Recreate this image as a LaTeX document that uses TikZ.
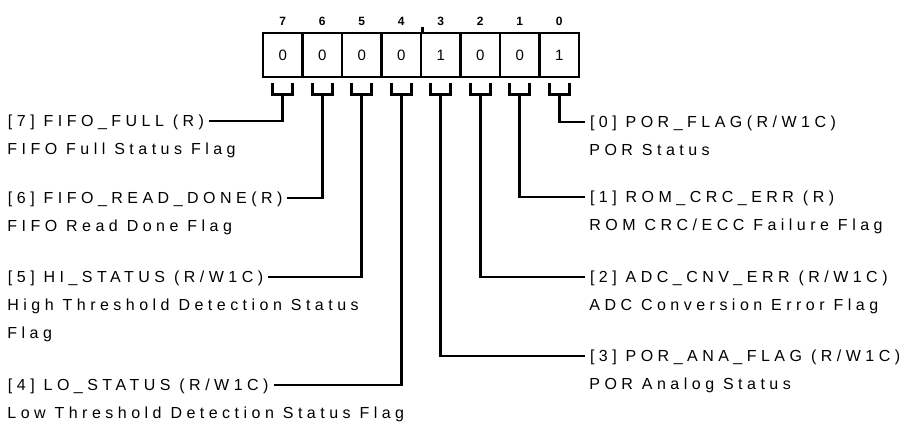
\documentclass[tikz,border=0pt]{standalone}
\usepackage{fontspec}
\setmainfont{Liberation Sans}
\newfontfamily\regfont[LetterSpace=28]{Liberation Sans}
\usetikzlibrary{positioning}

\begin{document}
\begin{tikzpicture}[
  x=1pt, y=-1pt,
  line width=2.8pt,
  line join=miter,
  cell/.style={
    draw,
    minimum width=39.5pt,
    minimum height=44pt,
    inner sep=0pt,
    font=\fontsize{15}{17}\selectfont
  },
  bitnum/.style={
    inner sep=0pt,
    font=\bfseries\fontsize{12}{14}\selectfont
  },
  fieldname/.style={
    anchor=west,
    text height=11pt,
    text depth=0pt,
    inner xsep=3pt,
    inner ysep=0pt,
    outer xsep=2pt,
    font=\regfont\fontsize{16}{28}\selectfont
  },
  fielddesc/.style={
    align=left,
    inner xsep=3pt,
    inner ysep=0pt,
    font=\regfont\fontsize{16}{28}\selectfont
  },
  link/.style={line width=2.8pt}
]
\useasboundingbox (0,0) rectangle (914,426);

% register cells, bit numbers and brackets
\foreach \b/\v in {7/0,6/0,5/0,4/0,3/1,2/0,1/0,0/1} {
  \node[cell] (b\b) at ({282.75+39.5*(7-\b)}, 55) {\v};
  \node[bitnum] (n\b) at ({282.75+39.5*(7-\b)}, 21) {\b};
  \coordinate (s\b) at ([yshift=-16pt]b\b.south);
  \draw ([xshift=-10pt,yshift=-5pt]b\b.south) |- (s\b) -| ([xshift=10pt,yshift=-5pt]b\b.south);
}
\draw ([yshift=-1.4pt]b4.north east) -- ++(0,-6);

% left fields
\node[fieldname] (l7) at (3,121) {[7] FIFO\_FULL (R)};
\node[fielddesc, below=28pt of l7.base west, anchor=base west] (d7) {FIFO Full Status Flag};
\node[fieldname] (l6) at (3,198) {[6] FIFO\_READ\_DONE(R)};
\node[fielddesc, below=28pt of l6.base west, anchor=base west] (d6) {FIFO Read Done Flag};
\node[fieldname] (l5) at (3,277) {[5] HI\_STATUS (R/W1C)};
\node[fielddesc, below=56pt of l5.base west, anchor=base west] (d5) {High Threshold Detection Status\\Flag};
\node[fieldname] (l4) at (3,385) {[4] LO\_STATUS (R/W1C)};
\node[fielddesc, below=28pt of l4.base west, anchor=base west] (d4) {Low Threshold Detection Status Flag};

% right fields
\node[fieldname] (l0) at (585,122) {[0] POR\_FLAG(R/W1C)};
\node[fielddesc, below=28pt of l0.base west, anchor=base west] (d0) {POR Status};
\node[fieldname] (l1) at (585,197) {[1] ROM\_CRC\_ERR (R)};
\node[fielddesc, below=28pt of l1.base west, anchor=base west] (d1) {ROM CRC/ECC Failure Flag};
\node[fieldname] (l2) at (585,277) {[2] ADC\_CNV\_ERR (R/W1C)};
\node[fielddesc, below=28pt of l2.base west, anchor=base west] (d2) {ADC Conversion Error Flag};
\node[fieldname] (l3) at (585,356) {[3] POR\_ANA\_FLAG (R/W1C)};
\node[fielddesc, below=28pt of l3.base west, anchor=base west] (d3) {POR Analog Status};

\draw[link] (s7) |- (l7.east);
\draw[link] (s6) |- (l6.east);
\draw[link] (s5) |- (l5.east);
\draw[link] (s4) |- (l4.east);
\draw[link] (s0) |- (l0.west);
\draw[link] (s1) |- (l1.west);
\draw[link] (s2) |- (l2.west);
\draw[link] (s3) |- (l3.west);
\end{tikzpicture}
\end{document}
